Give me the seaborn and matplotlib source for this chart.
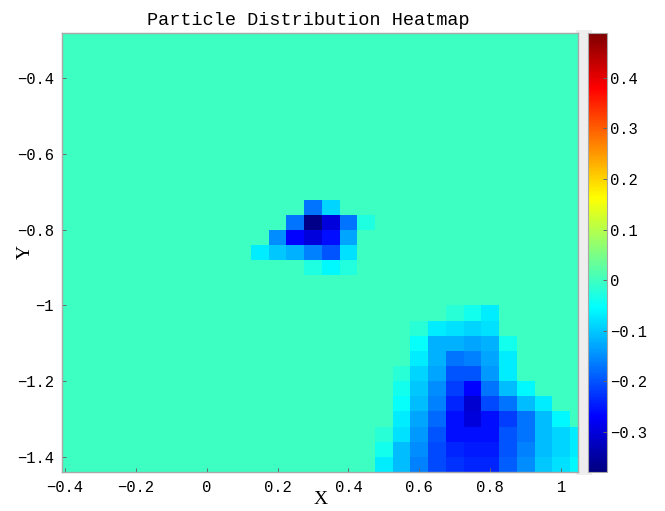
import numpy as np
import matplotlib
matplotlib.use("Agg")
import matplotlib.pyplot as plt
from matplotlib.colors import LinearSegmentedColormap
from matplotlib.patches import Rectangle
import seaborn as sns

# grid the heatmap lives on (29 rows top to bottom, 30 columns left to right)
n_rows = 29
n_cols = 30
x_first = -0.4
x_step = 0.05
y_top = -0.28
y_step = 0.04

x_ticks = [-0.4, -0.2, 0, 0.2, 0.4, 0.6, 0.8, 1]
x_labels = ["−0.4", "−0.2", "0", "0.2", "0.4", "0.6", "0.8", "1"]
y_ticks = [-0.4, -0.6, -0.8, -1, -1.2, -1.4]
y_labels = ["−0.4", "−0.6", "−0.8", "−1", "−1.2", "−1.4"]
cbar_ticks = [-0.3, -0.2, -0.1, 0, 0.1, 0.2, 0.3, 0.4]
cbar_labels = ["−0.3", "−0.2", "−0.1", "0", "0.1", "0.2", "0.3", "0.4"]

# upper blob: (row, first column, values)
small_11 = (11, 14, [-0.17, -0.09])
small_12 = (12, 13, [-0.17, -0.37, -0.30, -0.17, -0.03])
small_13 = (13, 12, [-0.15, -0.27, -0.30, -0.26, -0.13])
small_14 = (14, 11, [-0.07, -0.10, -0.12, -0.16, -0.20, -0.08])
small_15 = (15, 14, [-0.03, -0.06, -0.025])

# lower right blob
big_18 = (18, 22, [-0.02, -0.04, -0.07])
big_19 = (19, 20, [-0.02, -0.07, -0.08, -0.09, -0.08])
big_20 = (20, 20, [-0.05, -0.12, -0.12, -0.13, -0.12, -0.04])
big_21 = (21, 20, [-0.07, -0.12, -0.17, -0.16, -0.13, -0.07])
big_22 = (22, 19, [-0.02, -0.09, -0.13, -0.20, -0.20, -0.14, -0.07])
big_23 = (23, 19, [-0.04, -0.10, -0.15, -0.22, -0.27, -0.17, -0.11, -0.06])
big_24 = (24, 19, [-0.05, -0.11, -0.16, -0.24, -0.31, -0.21, -0.17, -0.11, -0.07])
big_25 = (25, 19, [-0.07, -0.13, -0.18, -0.26, -0.30, -0.26, -0.22, -0.17, -0.11, -0.06])
big_26 = (26, 18, [-0.02, -0.08, -0.14, -0.20, -0.26, -0.26, -0.26, -0.20, -0.17, -0.11, -0.09, -0.07])
big_27 = (27, 18, [-0.04, -0.11, -0.15, -0.21, -0.24, -0.25, -0.25, -0.20, -0.16, -0.11, -0.09, -0.07])
big_28 = (28, 18, [-0.07, -0.11, -0.16, -0.21, -0.23, -0.24, -0.24, -0.19, -0.15, -0.10, -0.08, -0.06])

blobs = [small_11, small_12, small_13, small_14, small_15,
         big_18, big_19, big_20, big_21, big_22, big_23,
         big_24, big_25, big_26, big_27, big_28]

grid = np.zeros((n_rows, n_cols))
for row, col, vals in blobs:
    grid[row, col:col + len(vals)] = vals


def x_pos(v):
    return (v - x_first) / x_step + 0.5


def y_pos(v):
    return (y_top - v) / y_step


# MATLAB style jet, its stops differ a bit from matplotlib's
jet_ml = LinearSegmentedColormap.from_list("jet_ml", [
    (0, (0, 0, 0.5)), (0.125, (0, 0, 1)), (0.375, (0, 1, 1)),
    (0.625, (1, 1, 0)), (0.875, (1, 0, 0)), (1, (0.5, 0, 0))])

plt.rcParams['font.family'] = ['Liberation Mono', 'DejaVu Sans']

W, H = 665, 511
fig = plt.figure(figsize=(W / 100, H / 100), dpi=100)
fig.add_artist(Rectangle((576 / W, 1 - 475 / H), 16 / W, 445 / H,
                         transform=fig.transFigure, color='#eeeeee', lw=0, zorder=-1))
ax = fig.add_axes([62 / W, 1 - 472 / H, 516 / W, 439 / H])
cax = fig.add_axes([588 / W, 1 - 472 / H, 19 / W, 439 / H])

sns.heatmap(grid, cmap=jet_ml, vmin=-0.38, vmax=0.489, ax=ax, cbar_ax=cax,
            xticklabels=False, yticklabels=False)

ax.set_xlim(0.344, 29.45)
ax.set_ylim(n_rows, 0)
ax.set_xticks([x_pos(v) for v in x_ticks], x_labels, fontsize=11.2, rotation=0)
ax.set_yticks([y_pos(v) for v in y_ticks], y_labels, fontsize=11.2, rotation=0)
ax.tick_params(axis='both', direction='in', length=3, width=0.7, color='#666666', pad=6)
for spine in ax.spines.values():
    spine.set_visible(True)
    spine.set_color('#a8a8a8')
    spine.set_linewidth(1)

ax.set_title("Particle Distribution Heatmap", fontsize=13.3, pad=6, x=0.477)
fig.text(321 / W, 1 - 500 / H, "X", fontsize=14, ha='center', va='center', family='Liberation Serif')
fig.text(25 / W, 1 - 252 / H, "Y", fontsize=14, ha='center', va='center', rotation=90, family='Liberation Serif')

cbar = ax.collections[0].colorbar
cbar.set_ticks(cbar_ticks, labels=cbar_labels)
cbar.ax.tick_params(direction='in', length=3, width=0.7, color='#666666', labelsize=11.2, pad=2)
cbar.outline.set_visible(True)
cbar.outline.set_edgecolor('#a8a8a8')
cbar.outline.set_linewidth(0.8)

fig.savefig("out.png", dpi=100)
